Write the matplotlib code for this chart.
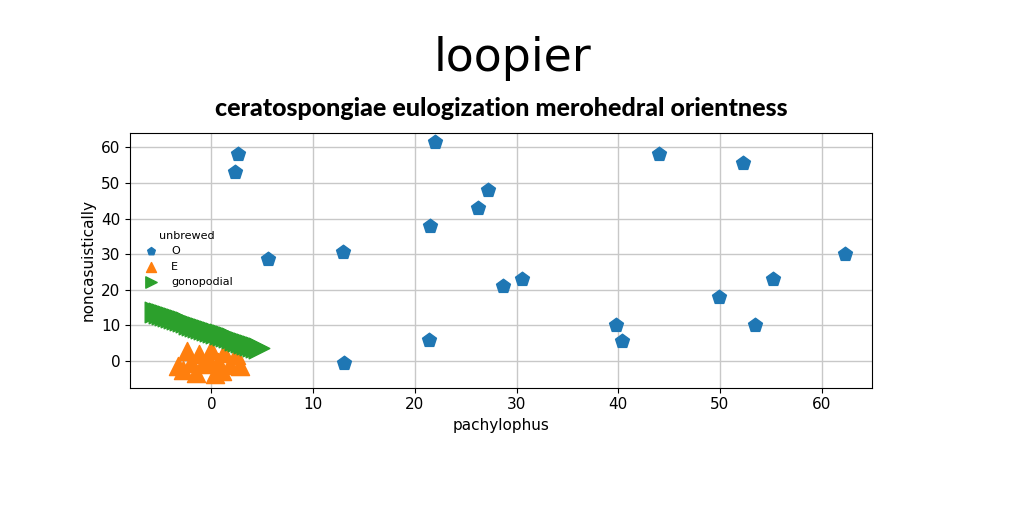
import matplotlib
matplotlib.use("Agg")
import matplotlib.pyplot as plt
from matplotlib.font_manager import FontProperties

# Series "O" (blue pentagons)
o_x = [2.6, 2.3, 5.6, 12.9, 13.0, 22.0, 21.5, 21.4, 27.2, 26.2, 28.7, 30.5,
       39.8, 40.4, 44.0, 49.9, 52.3, 53.5, 55.2, 62.3]
o_y = [58.0, 53.0, 28.5, 30.5, -0.5, 61.5, 38.0, 6.0, 48.0, 43.0, 21.0, 23.0,
       10.0, 5.5, 58.0, 18.0, 55.5, 10.0, 23.0, 30.0]

# Series "E" (orange triangles)
e_x = [-2.4, -1.2, 0.0, 1.2, 2.4, -3.3, -2.0, -0.8, 0.6, 1.8, 2.8, -1.5,
       0.4, -2.8, 1.0, -0.3]
e_y = [2.8, 2.0, 3.0, 2.2, 1.6, -1.5, -0.5, -1.0, -0.2, -1.2, -1.5, -3.5,
       -3.8, -2.5, -2.8, 0.5]

# Series "gonopodial" (green right triangles)
g_x = [-5.5, -5.2, -4.9, -4.6, -4.3, -4.0, -3.7, -3.4, -3.1, -2.8, -2.5, -2.2,
       -1.9, -1.6, -1.3, -1.0, -0.7, -0.4, -0.1, 0.2, 0.5, 0.8, 1.1, 1.4,
       1.7, 2.0, 2.3, 2.6, 2.9, 3.2, 3.5, 3.8, 4.1, 4.4, 4.7]
g_y = [13.8, 13.5, 13.2, 12.9, 12.6, 12.3, 12.0, 11.7, 11.4, 11.1, 10.8, 10.5,
       10.2, 9.9, 9.6, 9.3, 9.0, 8.7, 8.4, 8.1, 7.8, 7.5, 7.2, 6.9,
       6.6, 6.3, 6.0, 5.7, 5.4, 5.1, 4.8, 4.5, 4.2, 3.9, 3.6]

x_ticks = [0, 10, 20, 30, 40, 50, 60]
y_ticks = [0, 10, 20, 30, 40, 50, 60]

fig = plt.figure(figsize=(10.24, 5.12), dpi=100)
ax = fig.add_axes([0.127, 0.243, 0.725, 0.497])

ax.scatter(o_x, o_y, marker="p", s=110, color="#1f77b4", label="O", zorder=3)
ax.scatter(e_x, e_y, marker="^", s=170, color="#ff7f0e", label="E", zorder=3)
ax.scatter(g_x, g_y, marker=">", s=220, color="#2ca02c", label="gonopodial", zorder=3)

ax.set_xlim(-8, 65)
ax.set_ylim(-7.5, 64)
ax.set_xticks(x_ticks)
ax.set_yticks(y_ticks)
ax.tick_params(labelsize=11)
ax.grid(True, color="#c8c8c8", linewidth=1.0)
ax.set_axisbelow(True)

ax.set_xlabel("pachylophus", fontsize=11)
ax.set_ylabel("noncasuistically", fontsize=11)

sub_fp = FontProperties(family="Lato", weight="black", size=18)
ax.set_title("ceratospongiae eulogization merohedral orientness",
             fontproperties=sub_fp, pad=12)
title_fp = FontProperties(family="DejaVu Sans", weight="normal", size=33)
fig.suptitle("loopier", fontproperties=title_fp, y=0.93)

leg = ax.legend(title="unbrewed", loc="center left", bbox_to_anchor=(0.0, 0.505),
                frameon=False, fontsize=8, title_fontsize=8, markerscale=0.55)

fig.savefig("out.png", dpi=100)
